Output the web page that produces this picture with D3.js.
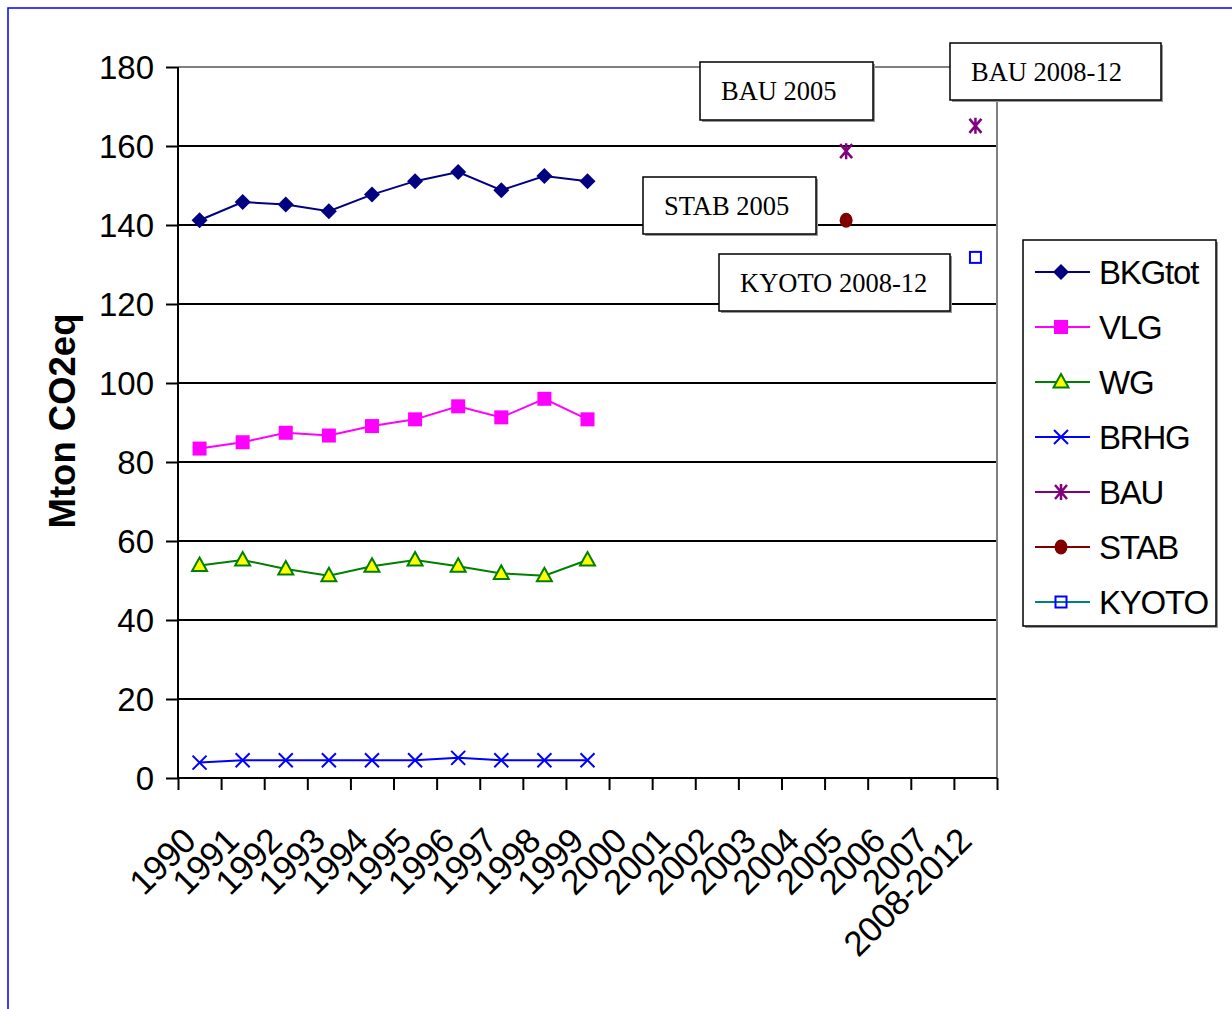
<!DOCTYPE html>
<html>
<head>
  <meta charset="utf-8">
  <title>Mton CO2eq</title>
  <script src="https://cdn.jsdelivr.net/npm/d3@7/dist/d3.min.js"></script>
  <style>
    body { margin: 0; background: #fff; }
    svg { display: block; }
  </style>
</head>
<body>
  <div id="chart"></div>
  <script>
    // categorie op de x-as
    const categories = ['1990', '1991', '1992', '1993', '1994', '1995', '1996', '1997', '1998', '1999',
      '2000', '2001', '2002', '2003', '2004', '2005', '2006', '2007', '2008-2012'];
    const histYears = ['1990', '1991', '1992', '1993', '1994', '1995', '1996', '1997', '1998', '1999'];

    // gemeten reeksen (Mton CO2eq)
    const bkgtot = [141.2, 145.8, 145.2, 143.5, 147.7, 151.1, 153.4, 148.8, 152.4, 151.1];
    const vlg = [83.4, 85.0, 87.4, 86.7, 89.1, 90.8, 94.1, 91.3, 96.0, 90.8];
    const wg = [53.8, 55.2, 52.9, 51.2, 53.6, 55.2, 53.6, 51.8, 51.2, 55.2];
    const brhg = [3.9, 4.5, 4.5, 4.5, 4.5, 4.5, 5.1, 4.5, 4.5, 4.5];

    // scenario's
    const bauCats = ['2005', '2008-2012'];
    const bauVals = [158.7, 165.1];
    const stabCats = ['2005'];
    const stabVals = [141.2];
    const kyotoCats = ['2008-2012'];
    const kyotoVals = [131.8];

    const yTicks = [0, 20, 40, 60, 80, 100, 120, 140, 160, 180];
    const legendNames = ['BKGtot', 'VLG', 'WG', 'BRHG', 'BAU', 'STAB', 'KYOTO'];
    const noteTexts = ['BAU 2005', 'BAU 2008-12', 'STAB 2005', 'KYOTO 2008-12'];

    const W = 1232, H = 1009;
    const pLeft = 178, pRight = 997, pTop = 67, pBottom = 778;

    const svg = d3.select('#chart').append('svg').attr('width', W).attr('height', H);

    // blauwe rand rond de grafiek
    svg.append('rect').attr('x', 8).attr('y', 8).attr('width', W + 20).attr('height', H + 20)
      .attr('fill', 'none').attr('stroke', '#0000ff').attr('stroke-width', 1.5);

    const x = d3.scaleBand().domain(categories).range([pLeft, pRight]).paddingInner(0).paddingOuter(0);
    const xIdx = d3.scaleLinear().domain([0, categories.length]).range([pLeft, pRight]);
    const y = d3.scaleLinear().domain([0, 180]).range([pBottom, pTop]);
    const cx = c => x(c) + x.bandwidth() / 2;

    // rasterlijnen
    svg.append('g').selectAll('line').data(yTicks.filter(t => t > 0)).join('line')
      .attr('x1', pLeft).attr('x2', pRight)
      .attr('y1', d => y(d)).attr('y2', d => y(d))
      .attr('stroke', d => d === 180 ? '#808080' : '#000').attr('stroke-width', 2);

    // rechterrand plotgebied
    svg.append('line').attr('x1', pRight).attr('x2', pRight).attr('y1', pTop).attr('y2', pBottom)
      .attr('stroke', '#808080').attr('stroke-width', 2);

    // y-as
    const yAxis = svg.append('g').attr('transform', `translate(${pLeft},0)`)
      .call(d3.axisLeft(y).tickValues(yTicks).tickSize(12).tickPadding(12).tickFormat(d3.format('d')));
    yAxis.select('.domain').attr('stroke', '#000').attr('stroke-width', 2).attr('d', `M0,${pTop}V${pBottom}`);
    yAxis.selectAll('.tick line').attr('stroke', '#000').attr('stroke-width', 2);
    yAxis.selectAll('.tick text').attr('font-family', 'Liberation Sans, Arial, sans-serif')
      .attr('font-size', 33).attr('fill', '#000').attr('dy', '0.36em');

    // x-as met streepjes op categoriegrenzen
    const xAxis = svg.append('g').attr('transform', `translate(0,${pBottom})`)
      .call(d3.axisBottom(xIdx).ticks(categories.length).tickSize(12).tickFormat(''));
    xAxis.select('.domain').attr('stroke', '#000').attr('stroke-width', 2).attr('d', `M${pLeft},0H${pRight}`);
    xAxis.selectAll('.tick line').attr('stroke', '#000').attr('stroke-width', 2);

    svg.append('g').selectAll('text').data(categories).join('text')
      .attr('transform', d => `translate(${cx(d) - 2},843) rotate(-45)`)
      .attr('text-anchor', 'end')
      .attr('font-family', 'Liberation Sans, Arial, sans-serif').attr('font-size', 35)
      .attr('letter-spacing', -0.5)
      .text(d => d);

    // as-titel
    svg.append('text')
      .attr('transform', 'translate(75,421) rotate(-90)')
      .attr('text-anchor', 'middle')
      .attr('font-family', 'Liberation Sans, Arial, sans-serif').attr('font-size', 36.5).attr('font-weight', 'bold')
      .text('Mton CO2eq');

    // markers
    function marker(g, type, mx, my) {
      if (type === 'diamond') {
        g.append('path').attr('d', `M${mx},${my - 8}L${mx + 8},${my}L${mx},${my + 8}L${mx - 8},${my}Z`)
          .attr('fill', '#000080');
      } else if (type === 'square') {
        g.append('rect').attr('x', mx - 7).attr('y', my - 7).attr('width', 14).attr('height', 14)
          .attr('fill', '#ff00ff');
      } else if (type === 'triangle') {
        g.append('path').attr('d', `M${mx},${my - 8}L${mx + 7.5},${my + 5.5}L${mx - 7.5},${my + 5.5}Z`)
          .attr('fill', '#ffff00').attr('stroke', '#008000').attr('stroke-width', 2);
      } else if (type === 'x') {
        g.append('path').attr('d', `M${mx - 7},${my - 7}L${mx + 7},${my + 7}M${mx - 7},${my + 7}L${mx + 7},${my - 7}`)
          .attr('stroke', '#0000ff').attr('stroke-width', 2);
      } else if (type === 'star') {
        g.append('path').attr('d', `M${mx - 6},${my - 7}L${mx + 6},${my + 7}M${mx - 6},${my + 7}L${mx + 6},${my - 7}M${mx},${my - 8}L${mx},${my + 8}`)
          .attr('stroke', '#800080').attr('stroke-width', 2.5);
      } else if (type === 'circle') {
        g.append('ellipse').attr('cx', mx).attr('cy', my).attr('rx', 6.5).attr('ry', 7.5).attr('fill', '#800000');
      } else if (type === 'hsquare') {
        g.append('rect').attr('x', mx - 5.5).attr('y', my - 5.5).attr('width', 11).attr('height', 11)
          .attr('fill', 'none').attr('stroke', '#0000ff').attr('stroke-width', 2);
      }
    }

    const lineSeries = [
      { vals: bkgtot, color: '#000080', type: 'diamond' },
      { vals: vlg, color: '#ff00ff', type: 'square' },
      { vals: wg, color: '#008000', type: 'triangle' },
      { vals: brhg, color: '#0000ff', type: 'x' }
    ];
    const line = d3.line().x(d => cx(d[0])).y(d => y(d[1]));

    const plot = svg.append('g');
    lineSeries.forEach(s => {
      const pts = histYears.map((c, i) => [c, s.vals[i]]);
      plot.append('path').attr('d', line(pts)).attr('fill', 'none')
        .attr('stroke', s.color).attr('stroke-width', 2);
      pts.forEach(p => marker(plot, s.type, cx(p[0]), y(p[1])));
    });
    bauCats.forEach((c, i) => marker(plot, 'star', cx(c), y(bauVals[i])));
    stabCats.forEach((c, i) => marker(plot, 'circle', cx(c), y(stabVals[i])));
    kyotoCats.forEach((c, i) => marker(plot, 'hsquare', cx(c), y(kyotoVals[i])));

    // tekstvakken
    const noteBoxes = [
      { x: 700, y: 62, w: 173, h: 58 },
      { x: 950, y: 43, w: 211, h: 57 },
      { x: 643, y: 177, w: 173, h: 57 },
      { x: 719, y: 254, w: 231, h: 57 }
    ];
    const notes = svg.append('g');
    noteTexts.forEach((t, i) => {
      const b = noteBoxes[i];
      notes.append('rect').attr('x', b.x + 2).attr('y', b.y + 2).attr('width', b.w).attr('height', b.h)
        .attr('fill', '#999');
      notes.append('rect').attr('x', b.x).attr('y', b.y).attr('width', b.w).attr('height', b.h)
        .attr('fill', '#fff').attr('stroke', '#000').attr('stroke-width', 1.5);
      notes.append('text').attr('x', b.x + 21).attr('y', b.y + b.h / 2 + 9)
        .attr('font-family', 'Liberation Serif, Times New Roman, serif').attr('font-size', 26.5)
        .text(t);
    });

    // legenda
    const legendColors = ['#000080', '#ff00ff', '#008000', '#0000ff', '#800080', '#800000', '#008080'];
    const legendTypes = ['diamond', 'square', 'triangle', 'x', 'star', 'circle', 'hsquare'];
    const lg = svg.append('g');
    lg.append('rect').attr('x', 1025).attr('y', 242).attr('width', 193).attr('height', 386).attr('fill', '#999');
    lg.append('rect').attr('x', 1023).attr('y', 240).attr('width', 193).attr('height', 386)
      .attr('fill', '#fff').attr('stroke', '#000').attr('stroke-width', 1.5);
    legendNames.forEach((n, i) => {
      const ly = 272 + i * 55;
      lg.append('line').attr('x1', 1035).attr('x2', 1090).attr('y1', ly).attr('y2', ly)
        .attr('stroke', legendColors[i]).attr('stroke-width', 2);
      marker(lg, legendTypes[i], 1061, ly);
      lg.append('text').attr('x', 1099).attr('y', ly + 11.5)
        .attr('font-family', 'Liberation Sans, Arial, sans-serif').attr('font-size', 33)
        .attr('letter-spacing', -1.2)
        .text(n);
    });
  </script>
</body>
</html>
